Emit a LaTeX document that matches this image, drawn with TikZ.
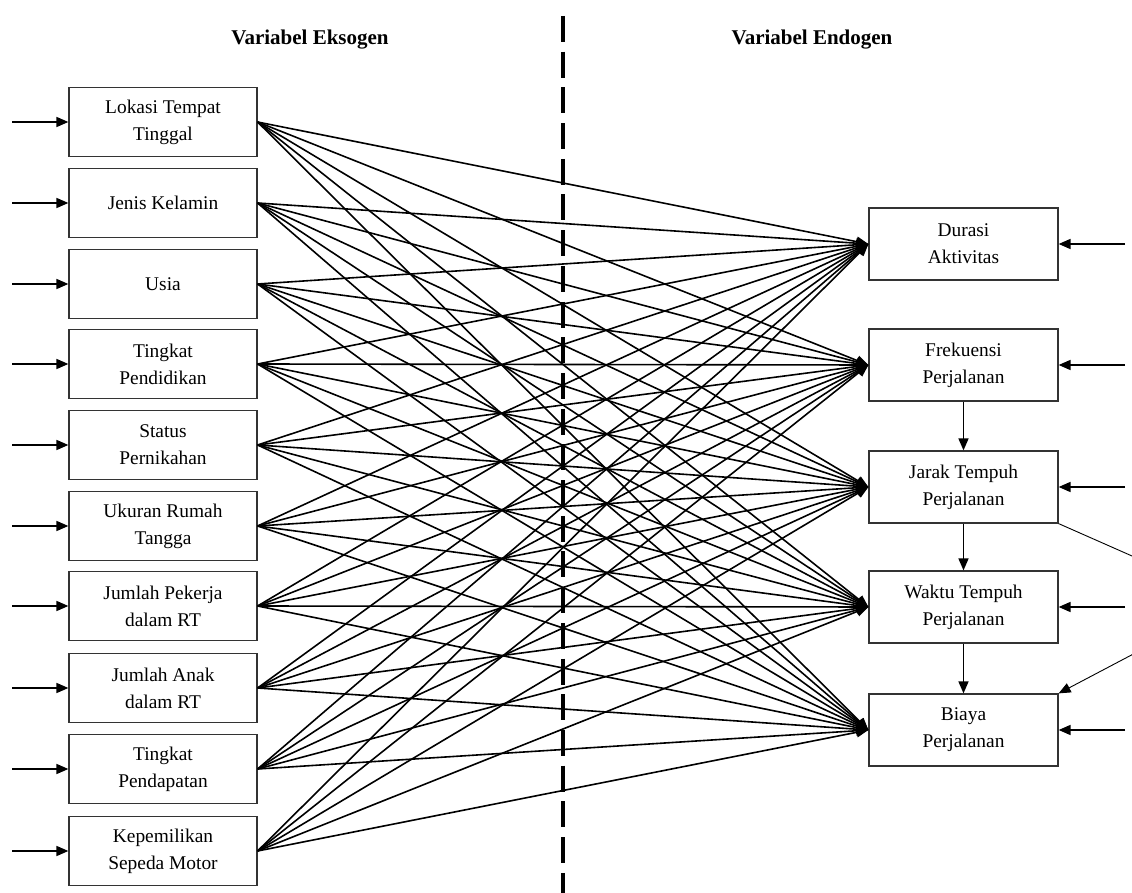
\documentclass[tikz,border=0pt]{standalone}
\usepackage{fontspec}
\setmainfont{Liberation Serif}
\usetikzlibrary{arrows.meta}

\tikzset{
  varbox/.style={draw=black!80, line width=0.6pt, inner sep=0pt, align=center,
    font=\fontsize{9.7}{13.5}\selectfont},
  exobox/.style={varbox, minimum width=94pt, minimum height=34.5pt},
  endobox/.style={varbox, minimum width=94.5pt, minimum height=36pt},
  link/.style={line width=0.8pt, -{Triangle[length=6pt,width=5pt]}},
  thinlink/.style={line width=0.45pt, -{Triangle[length=6pt,width=5pt]}},
  judul/.style={font=\bfseries\fontsize{10.5}{12}\selectfont}
}

\begin{document}
\begin{tikzpicture}[x=0.5pt,y=-0.5pt]
    \useasboundingbox (0,0) rectangle (1132,893);
    \clip (0,0) rectangle (1132,893);
    \node[judul] (tEks) at (310,40) {Variabel Eksogen};
    \node[judul] (tEnd) at (812,40) {Variabel Endogen};
    \draw[line width=1.7pt, dash pattern=on 13pt off 4.85pt] (563,16) -- (563,893);
    % variabel eksogen
    \foreach \i/\y/\lab in {1/122/{Lokasi Tempat\\Tinggal}, 2/203/{Jenis Kelamin},
        3/284/{Usia}, 4/364/{Tingkat\\Pendidikan}, 5/445/{Status\\Pernikahan},
        6/526/{Ukuran Rumah\\Tangga}, 7/606/{Jumlah Pekerja\\dalam RT},
        8/688/{Jumlah Anak\\dalam RT}, 9/769/{Tingkat\\Pendapatan},
        10/851/{Kepemilikan\\Sepeda Motor}} {
        \node[exobox] (ex\i) at (163,\y) {\lab};
        \coordinate (exin\i) at (12,\y);
        \draw[link] (exin\i) -- (ex\i);
    }
    % variabel endogen
    \foreach \j/\y/\lab in {1/244/{Durasi\\Aktivitas}, 2/365/{Frekuensi\\Perjalanan},
        3/487/{Jarak Tempuh\\Perjalanan}, 4/607/{Waktu Tempuh\\Perjalanan},
        5/730/{Biaya\\Perjalanan}} {
        \node[endobox] (en\j) at (963.5,\y) {\lab};
        \coordinate (enin\j) at (1125,\y);
        \draw[link] (enin\j) -- (en\j);
    }
    \foreach \i in {1,...,10} \foreach \j in {1,...,5} \draw[link] (ex\i.east) -- (en\j.west);
    \draw[link] (en2) -- (en3);
    \draw[link] (en3) -- (en4);
    \draw[link] (en4) -- (en5);
    \coordinate (tekuk) at (1234,601);
    \draw[thinlink] (en3.south east) -- (tekuk) -- (en5.north east);
\end{tikzpicture}
\end{document}
